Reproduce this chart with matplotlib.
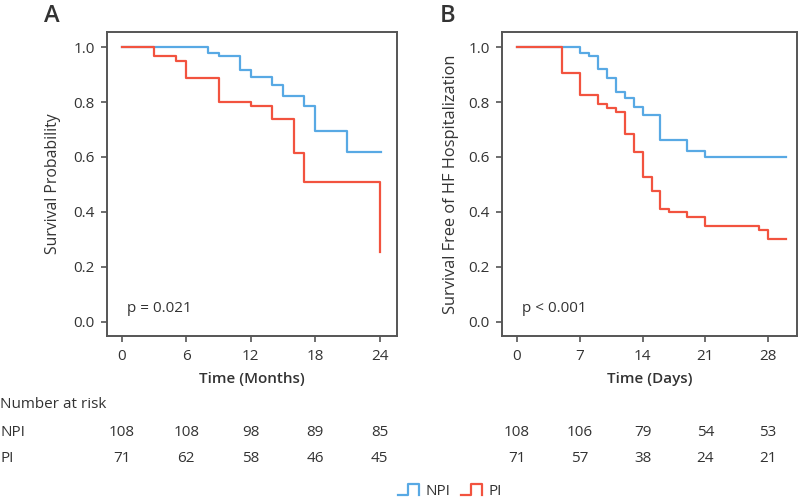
import matplotlib
matplotlib.use("Agg")
import matplotlib.pyplot as plt
import matplotlib.transforms as mtransforms
from matplotlib.legend_handler import HandlerBase
from matplotlib.lines import Line2D

plt.rcParams['font.family'] = ['Open Sans', 'DejaVu Sans']

# ---- Panel A data (months) ----
a_npi_t = [0, 8, 9, 11, 12, 14, 15, 17, 18, 21, 24.1]
a_npi_s = [1.0, 0.978, 0.967, 0.918, 0.892, 0.862, 0.821, 0.787, 0.696, 0.617, 0.617]
a_pi_t = [0, 3, 5, 6, 9, 12, 14, 16, 17, 24]
a_pi_s = [1.0, 0.968, 0.951, 0.886, 0.802, 0.784, 0.738, 0.615, 0.510, 0.255]

# ---- Panel B data (days) ----
b_npi_t = [0, 7, 8, 9, 10, 11, 12, 13, 14, 16, 19, 21, 30]
b_npi_s = [1.0, 0.980, 0.969, 0.919, 0.888, 0.837, 0.815, 0.783, 0.753, 0.662, 0.620, 0.600, 0.600]
b_pi_t = [0, 5, 7, 9, 10, 11, 12, 13, 14, 15, 16, 17, 19, 21, 27, 28, 30]
b_pi_s = [1.0, 0.906, 0.827, 0.794, 0.778, 0.762, 0.684, 0.618, 0.526, 0.477, 0.412, 0.399,
          0.382, 0.349, 0.334, 0.302, 0.302]

a_ticks = [0, 6, 12, 18, 24]
b_ticks = [0, 7, 14, 21, 28]
a_risk_npi = [108, 108, 98, 89, 85]
a_risk_pi = [71, 62, 58, 46, 45]
b_risk_npi = [108, 106, 79, 54, 53]
b_risk_pi = [71, 57, 38, 24, 21]

BLUE = '#58a9e4'
RED = '#f2533f'
FRAME = '#555555'
TXT = '#333333'
FS = 11

fig = plt.figure(figsize=(8, 5), dpi=100)
axA = fig.add_axes([0.134, 0.328, 0.362, 0.609])
axB = fig.add_axes([0.628, 0.328, 0.368, 0.609])


def style(ax, ticks, xlim, xlabel, ylabel, ptext, ylab_fs, ylab_pad):
    ax.set_xlim(*xlim)
    ax.set_ylim(-0.052, 1.057)
    ax.set_xticks(ticks)
    ax.set_yticks([0, 0.2, 0.4, 0.6, 0.8, 1.0])
    ax.set_yticklabels(['0.0', '0.2', '0.4', '0.6', '0.8', '1.0'])
    for s in ax.spines.values():
        s.set_color(FRAME)
        s.set_linewidth(1.4)
    ax.tick_params(colors=FRAME, labelcolor=TXT, labelsize=FS, length=4, width=1.2, pad=5)
    ax.set_xlabel(xlabel, fontsize=FS, color=TXT, fontweight='semibold', labelpad=6)
    ax.set_ylabel(ylabel, fontsize=ylab_fs, color=TXT, labelpad=ylab_pad)
    ax.text(0.068, 0.089, ptext, transform=ax.transAxes, fontsize=FS, color=TXT, va='center')


axA.step(a_npi_t, a_npi_s, where='post', color=BLUE, lw=1.6)
axA.step(a_pi_t, a_pi_s, where='post', color=RED, lw=1.6)
axB.step(b_npi_t, b_npi_s, where='post', color=BLUE, lw=1.6)
axB.step(b_pi_t, b_pi_s, where='post', color=RED, lw=1.6)

style(axA, a_ticks, (-1.37, 25.6), 'Time (Months)', 'Survival Probability', 'p = 0.021', 11.3, 9)
style(axB, b_ticks, (-1.63, 31.2), 'Time (Days)', 'Survival Free of HF Hospitalization', 'p < 0.001', 11.8, 7)

fig.text(0.065, 0.992, 'A', fontsize=17, color=TXT, ha='center', va='top', fontweight='semibold')
fig.text(0.559, 0.992, 'B', fontsize=17, color=TXT, ha='center', va='top', fontweight='semibold')

# ---- risk table ----
fig.text(0.0, 0.192, 'Number at risk', fontsize=FS, color=TXT, va='center', ha='left')
fig.text(0.0, 0.134, 'NPI', fontsize=FS, color=TXT, va='center', ha='left')
fig.text(0.0, 0.084, 'PI', fontsize=FS, color=TXT, va='center', ha='left')
for ax, ticks, npi, pi in [(axA, a_ticks, a_risk_npi, a_risk_pi), (axB, b_ticks, b_risk_npi, b_risk_pi)]:
    tr = mtransforms.blended_transform_factory(ax.transData, fig.transFigure)
    for t, n, p in zip(ticks, npi, pi):
        fig.text(t, 0.134, str(n), transform=tr, ha='center', va='center', fontsize=FS, color=TXT)
        fig.text(t, 0.084, str(p), transform=tr, ha='center', va='center', fontsize=FS, color=TXT)


class StepHandler(HandlerBase):
    def create_artists(self, legend, orig_handle, xdescent, ydescent, width, height, fontsize, trans):
        x0 = -xdescent
        y0 = -ydescent
        xs = [x0, x0 + 0.45 * width, x0 + 0.45 * width, x0 + 0.95 * width, x0 + 0.95 * width]
        ys = [y0 + 0.05 * height, y0 + 0.05 * height, y0 + 0.95 * height, y0 + 0.95 * height, y0 + 0.05 * height]
        ln = Line2D(xs, ys, color=orig_handle.get_color(), lw=1.6, transform=trans)
        return [ln]


hN = Line2D([], [], color=BLUE)
hP = Line2D([], [], color=RED)
fig.legend([hN, hP], ['NPI', 'PI'], handler_map={Line2D: StepHandler()}, loc='center',
           bbox_to_anchor=(0.563, 0.018), ncol=2, frameon=False, fontsize=FS,
           handlelength=1.4, handleheight=0.8, handletextpad=0.4, columnspacing=0.7,
           labelcolor=TXT)

fig.savefig('out.png', dpi=100)
